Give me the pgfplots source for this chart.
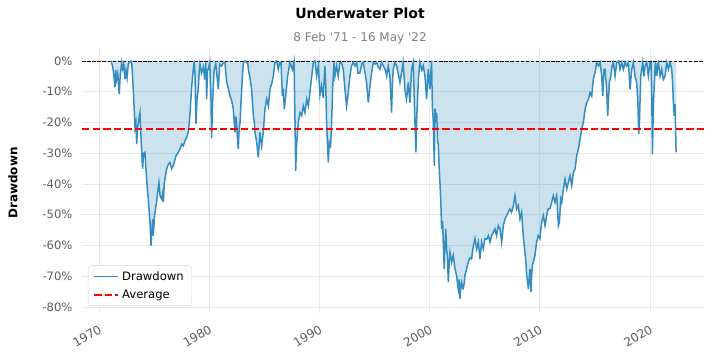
\documentclass[border=0pt]{standalone}
\usepackage{pgfplots}
\pgfplotsset{compat=1.18}
\usepackage{pgfplotstable}
\usepackage{fontspec}
\setmainfont{DejaVu Sans}
\definecolor{ddblue}{RGB}{52,141,193}
\definecolor{tickgrey}{RGB}{95,95,95}
\definecolor{subgrey}{RGB}{128,128,128}
\definecolor{gridgrey}{RGB}{232,232,232}
\definecolor{legendgrey}{RGB}{210,210,210}
\pgfplotstableread{
year dd
1971.10 0
1971.25 -2.0
1971.35 -4.5
1971.45 -8.6
1971.52 -3.0
1971.60 -6.0
1971.70 -4.0
1971.84 -10.8
1971.92 -5.0
1972.06 -0.5
1972.15 -2.5
1972.25 -1.0
1972.36 -5.9
1972.45 -3.0
1972.55 -5.5
1972.66 -1.0
1972.80 -0.3
1972.96 0
1973.05 -5.0
1973.15 -12.0
1973.27 -21.6
1973.35 -20.0
1973.42 -27.0
1973.50 -22.0
1973.62 -19.0
1973.72 -16.8
1973.80 -24.0
1973.96 -35.1
1974.05 -30.0
1974.17 -29.7
1974.28 -36.0
1974.39 -41.6
1974.50 -46.0
1974.63 -52.4
1974.72 -60.0
1974.80 -55.0
1974.87 -51.4
1974.93 -56.8
1975.05 -50.0
1975.23 -45.9
1975.35 -42.0
1975.44 -39.5
1975.55 -44.0
1975.69 -44.9
1975.78 -43.0
1975.84 -45.9
1975.93 -39.5
1976.05 -37.0
1976.14 -35.1
1976.30 -33.5
1976.44 -33.0
1976.60 -35.0
1976.74 -34.1
1976.90 -32.0
1976.99 -30.8
1977.15 -30.0
1977.35 -28.6
1977.50 -27.0
1977.65 -27.6
1977.80 -26.0
1978.02 -24.3
1978.10 -23.0
1978.20 -20.0
1978.32 -13.5
1978.42 -8.0
1978.50 -4.9
1978.58 -2.0
1978.65 0
1978.72 -5.0
1978.80 -20.5
1978.90 -12.0
1979.01 -9.2
1979.10 -3.0
1979.16 -1.0
1979.30 -4.0
1979.47 -2.0
1979.60 -6.0
1979.70 -0.5
1979.77 -12.4
1979.85 -3.0
1979.92 -2.7
1980.05 -0.5
1980.15 -10.0
1980.22 -25.0
1980.30 -15.0
1980.38 -8.0
1980.45 -3.0
1980.60 -1.0
1980.83 -9.2
1980.95 -1.0
1981.13 -1.6
1981.30 -0.5
1981.43 -0.5
1981.59 -7.0
1981.75 -9.0
1981.89 -11.4
1982.05 -13.0
1982.19 -15.7
1982.34 -23.2
1982.42 -18.0
1982.49 -20.0
1982.58 -26.0
1982.64 -28.6
1982.72 -22.0
1982.80 -20.0
1982.88 -14.0
1982.95 -9.2
1983.03 -4.0
1983.10 -0.5
1983.25 0
1983.40 -0.5
1983.50 -0.5
1983.55 -2.7
1983.70 -5.5
1983.85 -9.2
1984.01 -17.8
1984.10 -20.0
1984.16 -23.2
1984.31 -26.5
1984.46 -31.4
1984.55 -26.0
1984.61 -23.2
1984.70 -26.0
1984.76 -27.6
1984.91 -23.2
1985.06 -15.7
1985.22 -12.4
1985.37 -14.6
1985.52 -9.2
1985.70 -7.0
1985.82 -4.9
1985.97 -0.5
1986.12 0
1986.27 -2.7
1986.40 -0.5
1986.52 -0.5
1986.64 -11.4
1986.72 -9.0
1986.82 -15.7
1986.97 -10.3
1987.12 -4.9
1987.33 -0.5
1987.55 -2.7
1987.70 0
1987.79 -20.0
1987.85 -35.7
1987.92 -28.0
1987.97 -25.4
1988.09 -20.0
1988.24 -16.8
1988.39 -17.8
1988.54 -14.6
1988.69 -16.8
1988.85 -12.4
1989.00 -14.6
1989.24 -7.0
1989.45 -0.5
1989.60 0
1989.75 -4.9
1989.90 -1.6
1990.05 -11.0
1990.20 -8.0
1990.35 -12.0
1990.50 -1.6
1990.58 -8.0
1990.65 -20.0
1990.81 -33.0
1990.90 -26.5
1991.02 -27.6
1991.11 -20.0
1991.20 -9.2
1991.32 -0.5
1991.41 -4.9
1991.56 -1.6
1991.71 -4.9
1991.86 -0.5
1992.00 -0.5
1992.17 -2.7
1992.32 -9.2
1992.47 -14.6
1992.62 -10.3
1992.77 -4.9
1992.92 -1.6
1993.07 -0.5
1993.23 -1.6
1993.38 -0.5
1993.50 -4.0
1993.68 -3.8
1993.85 -1.0
1993.98 -0.5
1994.10 -3.0
1994.28 -7.0
1994.44 -13.5
1994.59 -8.1
1994.74 -3.8
1994.89 -0.5
1995.05 -1.0
1995.19 -0.5
1995.35 -2.0
1995.49 -2.7
1995.65 -0.5
1995.80 -1.6
1996.00 -3.0
1996.10 -4.9
1996.25 -1.6
1996.40 -4.9
1996.55 -16.8
1996.62 -8.0
1996.70 -2.7
1996.85 -0.5
1997.01 -1.6
1997.15 -4.0
1997.31 -7.0
1997.46 -3.8
1997.60 -0.5
1997.76 -9.2
1997.91 -12.4
1998.07 -7.0
1998.22 -13.5
1998.37 -2.7
1998.52 -0.5
1998.67 -20.0
1998.76 -29.7
1998.82 -20.0
1998.88 -14.6
1999.00 -4.9
1999.12 -0.5
1999.30 -3.0
1999.43 -1.6
1999.58 -4.9
1999.73 -12.4
1999.88 -2.7
2000.03 -9.2
2000.18 0
2000.25 -14.6
2000.34 -20.0
2000.43 -34.1
2000.49 -15.5
2000.55 -20.0
2000.64 -16.8
2000.73 -26.5
2000.79 -27.0
2000.86 -34.0
2000.94 -39.5
2001.03 -47.0
2001.09 -54.6
2001.18 -52.0
2001.24 -58.9
2001.33 -67.6
2001.40 -60.0
2001.46 -54.6
2001.55 -61.1
2001.62 -64.0
2001.70 -71.9
2001.78 -66.0
2001.85 -62.2
2001.92 -63.5
2002.00 -65.4
2002.15 -63.2
2002.30 -67.6
2002.45 -69.7
2002.52 -72.0
2002.60 -74.1
2002.68 -71.0
2002.76 -77.3
2002.84 -73.0
2002.91 -71.9
2003.00 -74.0
2003.06 -74.1
2003.15 -72.0
2003.21 -69.7
2003.36 -67.6
2003.51 -65.4
2003.65 -64.0
2003.81 -64.3
2003.97 -60.0
2004.05 -59.0
2004.12 -57.8
2004.27 -61.1
2004.42 -58.9
2004.57 -64.3
2004.72 -58.9
2004.87 -61.1
2005.02 -57.8
2005.18 -58.0
2005.33 -56.8
2005.48 -58.9
2005.63 -56.8
2005.78 -55.7
2005.93 -54.6
2006.08 -56.8
2006.23 -53.5
2006.39 -54.6
2006.54 -58.9
2006.69 -53.5
2006.84 -51.4
2006.99 -50.3
2007.14 -49.2
2007.29 -48.1
2007.44 -49.2
2007.60 -47.0
2007.75 -43.8
2007.90 -48.1
2008.05 -47.0
2008.20 -51.4
2008.35 -49.2
2008.50 -56.8
2008.65 -62.2
2008.75 -66.0
2008.81 -69.7
2008.90 -72.0
2008.96 -74.1
2009.05 -70.0
2009.11 -67.6
2009.20 -75.1
2009.26 -70.0
2009.32 -66.5
2009.41 -65.4
2009.56 -63.2
2009.71 -58.9
2009.86 -56.8
2010.01 -57.8
2010.17 -52.4
2010.32 -50.3
2010.47 -53.5
2010.62 -50.3
2010.77 -48.1
2010.93 -48.0
2011.08 -45.9
2011.23 -43.8
2011.38 -46.0
2011.53 -43.8
2011.69 -53.5
2011.78 -52.4
2011.90 -44.9
2011.99 -45.9
2012.14 -41.6
2012.29 -38.4
2012.44 -41.6
2012.59 -39.5
2012.74 -37.3
2012.90 -40.5
2013.05 -36.2
2013.20 -35.1
2013.35 -30.8
2013.50 -28.6
2013.65 -25.4
2013.80 -22.2
2013.95 -20.0
2014.11 -15.7
2014.26 -13.5
2014.41 -12.4
2014.56 -10.3
2014.71 -11.4
2014.86 -5.9
2015.01 -3.8
2015.16 -0.5
2015.32 -1.6
2015.47 -0.5
2015.62 -4.9
2015.71 -11.4
2015.83 -2.7
2015.92 -2.7
2016.07 -9.2
2016.16 -17.8
2016.31 -7.0
2016.44 -4.9
2016.56 -1.6
2016.68 -0.5
2016.83 -4.9
2016.98 -0.5
2017.15 0
2017.28 -2.7
2017.43 -0.5
2017.58 -2.7
2017.74 -0.5
2017.89 -1.6
2018.04 -0.5
2018.19 -9.2
2018.34 -2.7
2018.49 -0.5
2018.64 -4.9
2018.79 -7.0
2018.90 -13.5
2018.98 -23.8
2019.04 -20.0
2019.16 -4.9
2019.34 -0.5
2019.45 -5.0
2019.55 -1.6
2019.70 -0.5
2019.85 -4.9
2020.00 -0.5
2020.10 -0.5
2020.16 -11.4
2020.22 -30.2
2020.30 -15.0
2020.37 -9.2
2020.49 -0.5
2020.61 -4.9
2020.70 -1.0
2020.76 -0.5
2020.91 -4.9
2021.06 -2.7
2021.21 -6.0
2021.37 -4.9
2021.52 -0.5
2021.67 -2.7
2021.82 -0.5
2021.97 -2.7
2022.05 -7.0
2022.12 -13.5
2022.20 -17.8
2022.27 -14.0
2022.32 -22.0
2022.37 -29.7
}\ddtable

\begin{document}
\begin{tikzpicture}
\useasboundingbox (0bp,0bp) rectangle (712bp,356bp);
\node[font=\fontsize{14bp}{16bp}\selectfont\bfseries] at (360bp,343bp) {Underwater Plot};
\node[font=\fontsize{12bp}{14bp}\selectfont, text=subgrey] at (360bp,318bp) {8 Feb \textquotesingle71 - 16 May \textquotesingle22};
\node[rotate=90, font=\fontsize{12bp}{14bp}\selectfont\bfseries] at (13bp,173bp) {Drawdown};
\begin{axis}[
  at={(82bp,43bp)}, anchor=south west,
  width=622bp, height=266bp, scale only axis,
  xmin=1968.46, xmax=2024.9, ymin=-81.95, ymax=4.55,
  axis line style={draw=none},
  major tick length=0pt,
  xtick={1970,1980,1990,2000,2010,2020},
  xticklabels={1970,1980,1990,2000,2010,2020},
  ytick={-80,-70,-60,-50,-40,-30,-20,-10,0},
  yticklabels={-80\%,-70\%,-60\%,-50\%,-40\%,-30\%,-20\%,-10\%,0\%},
  /pgf/number format/assume math mode=true,
  grid=major,
  major grid style={gridgrey, line width=0.8bp},
  tick label style={font=\fontsize{11.6bp}{13bp}\selectfont, text=tickgrey},
  x tick label style={font=\fontsize{12bp}{14bp}\selectfont, rotate=30, anchor=north east, yshift=-6bp, xshift=-3bp},
  y tick label style={xshift=-6bp},
  legend style={at={(0.0096,0.026)}, anchor=south west, draw=legendgrey,
    rounded corners=3bp, fill=white, fill opacity=0.8, text opacity=1,
    font=\fontsize{11.6bp}{13bp}\selectfont, row sep=4bp, inner xsep=5bp, inner ysep=4bp,
    nodes={inner xsep=3bp}},
  legend cell align=left,
  legend image code/.code={\draw[#1] (0bp,0bp) -- (24bp,0bp);},
]
\addplot[draw=none, fill=ddblue, fill opacity=0.25, forget plot] table[x=year,y=dd] {\ddtable} \closedcycle;
\addplot[black, line width=0.9bp, dash pattern=on 3.5bp off 1.6bp, forget plot] coordinates {(1968.46,0) (2024.9,0)};
\addplot[ddblue, line width=1.5bp, legend image post style={line width=1.1bp}] table[x=year,y=dd] {\ddtable};
\addlegendentry{Drawdown}
\addplot[red, line width=2bp, dash pattern=on 7.4bp off 3.2bp] coordinates {(1968.46,-22.1) (2024.9,-22.1)};
\addlegendentry{Average}
\end{axis}
\end{tikzpicture}
\end{document}
